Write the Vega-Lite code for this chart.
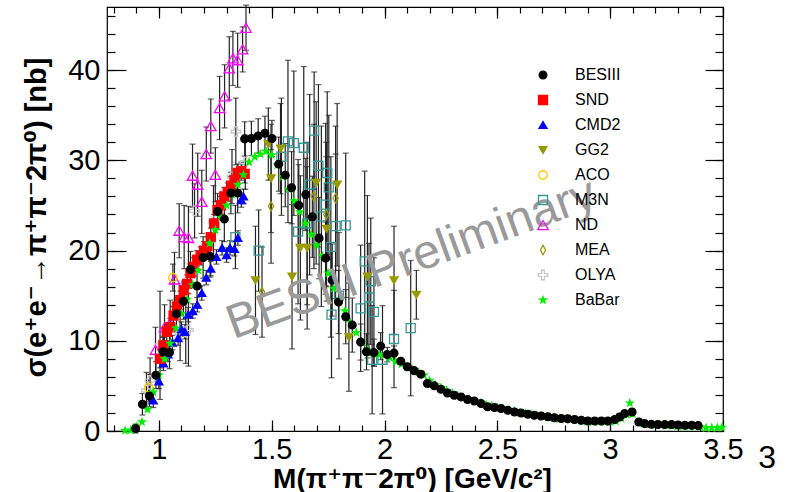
{
  "$schema": "https://vega.github.io/schema/vega-lite/v6.json",
  "width": 616,
  "height": 424,
  "autosize": {"type": "none"},
  "padding": {"left": 107, "top": 7, "right": 65, "bottom": 61},
  "background": "white",
  "config": {
    "font": "Liberation Sans",
    "view": {"stroke": "black", "strokeWidth": 1.2},
    "axis": {"grid": false, "domain": false, "tickColor": "black", "tickWidth": 1.2, "labelColor": "black", "titleColor": "black", "labelFont": "Liberation Sans", "titleFont": "Liberation Sans, DejaVu Sans"},
    "legend": {"orient": "none", "legendX": 428, "legendY": 60, "padding": 0, "labelFontSize": 16, "labelFont": "Liberation Sans", "labelColor": "black", "rowPadding": 9, "labelOffset": 24, "symbolStrokeWidth": 1.3, "symbolOpacity": 1}
  },
  "data": {"values": [
    {"exp":"M3N","m":1.339,"s":21.5,"e":3.5},{"exp":"M3N","m":1.442,"s":20.0,"e":4.5},{"exp":"M3N","m":1.543,"s":30.4,"e":6.5},{"exp":"M3N","m":1.572,"s":32.1,"e":9},{"exp":"M3N","m":1.598,"s":31.9,"e":8},{"exp":"M3N","m":1.617,"s":22.1,"e":8},{"exp":"M3N","m":1.642,"s":31.4,"e":9},{"exp":"M3N","m":1.657,"s":23.0,"e":9},{"exp":"M3N","m":1.668,"s":27.3,"e":10},{"exp":"M3N","m":1.688,"s":33.3,"e":6.5},{"exp":"M3N","m":1.707,"s":29.4,"e":9},{"exp":"M3N","m":1.72,"s":23.8,"e":10},{"exp":"M3N","m":1.739,"s":25.1,"e":9},{"exp":"M3N","m":1.746,"s":28.6,"e":9},{"exp":"M3N","m":1.753,"s":27.0,"e":8},{"exp":"M3N","m":1.762,"s":20.4,"e":10},{"exp":"M3N","m":1.765,"s":12.9,"e":7},{"exp":"M3N","m":1.783,"s":22.7,"e":8},{"exp":"M3N","m":1.798,"s":15.0,"e":7},{"exp":"M3N","m":1.828,"s":22.8,"e":8},{"exp":"M3N","m":1.894,"s":13.6,"e":7},{"exp":"M3N","m":1.912,"s":18.8,"e":10},{"exp":"M3N","m":1.931,"s":14.8,"e":6},{"exp":"M3N","m":1.939,"s":16.6,"e":7},{"exp":"M3N","m":1.945,"s":7.9,"e":6},{"exp":"M3N","m":1.953,"s":13.2,"e":6},{"exp":"M3N","m":1.991,"s":7.9,"e":6},{"exp":"M3N","m":2.042,"s":10.2,"e":5.4},{"exp":"M3N","m":2.116,"s":11.4,"e":7.5},
    {"exp":"MEA","m":1.457,"s":15.4,"e":5},{"exp":"MEA","m":1.497,"s":24.9,"e":6.3},{"exp":"MEA","m":1.687,"s":26.0,"e":8},{"exp":"MEA","m":1.742,"s":24.0,"e":8},{"exp":"MEA","m":1.783,"s":25.8,"e":8},
    {"exp":"GG2","m":1.428,"s":16.7,"e":6},{"exp":"GG2","m":1.485,"s":31.8,"e":4},{"exp":"GG2","m":1.497,"s":28.0,"e":6},{"exp":"GG2","m":1.539,"s":31.3,"e":5},{"exp":"GG2","m":1.59,"s":17.1,"e":8},{"exp":"GG2","m":1.627,"s":20.3,"e":8},{"exp":"GG2","m":1.657,"s":20.3,"e":9},{"exp":"GG2","m":1.697,"s":27.5,"e":9},{"exp":"GG2","m":1.743,"s":22.4,"e":8},{"exp":"GG2","m":1.79,"s":27.3,"e":9},{"exp":"GG2","m":1.842,"s":10.4,"e":6},{"exp":"GG2","m":1.924,"s":17.1,"e":9},{"exp":"GG2","m":2.042,"s":16.7,"e":6},{"exp":"GG2","m":2.141,"s":15.1,"e":2.7},
    {"exp":"OLYA","m":0.945,"s":4.5,"e":2},{"exp":"OLYA","m":0.961,"s":5.6,"e":2.5},{"exp":"OLYA","m":1.005,"s":9.5,"e":6},{"exp":"OLYA","m":1.094,"s":10.8,"e":3},{"exp":"OLYA","m":1.119,"s":11.0,"e":3.5},{"exp":"OLYA","m":1.131,"s":11.2,"e":4},{"exp":"OLYA","m":1.158,"s":24.4,"e":3},{"exp":"OLYA","m":1.242,"s":23.2,"e":4},{"exp":"OLYA","m":1.324,"s":28.2,"e":3},{"exp":"OLYA","m":1.341,"s":33.2,"e":3.7},{"exp":"OLYA","m":1.383,"s":29.8,"e":3},
    {"exp":"ND","m":0.985,"s":9.0,"e":2.5},{"exp":"ND","m":1.025,"s":11.5,"e":2.5},{"exp":"ND","m":1.05,"s":12.0,"e":2.5},{"exp":"ND","m":1.069,"s":16.8,"e":3},{"exp":"ND","m":1.09,"s":22.2,"e":3},{"exp":"ND","m":1.112,"s":21.5,"e":3.5},{"exp":"ND","m":1.131,"s":21.4,"e":3.5},{"exp":"ND","m":1.149,"s":28.3,"e":3.5},{"exp":"ND","m":1.172,"s":27.3,"e":3.5},{"exp":"ND","m":1.19,"s":25.4,"e":3.5},{"exp":"ND","m":1.21,"s":30.7,"e":3},{"exp":"ND","m":1.23,"s":33.8,"e":3},{"exp":"ND","m":1.25,"s":28.4,"e":3},{"exp":"ND","m":1.269,"s":35.8,"e":3.5},{"exp":"ND","m":1.291,"s":37.1,"e":3.5},{"exp":"ND","m":1.312,"s":40.2,"e":3.5},{"exp":"ND","m":1.328,"s":41.3,"e":3},{"exp":"ND","m":1.349,"s":41.1,"e":3},{"exp":"ND","m":1.371,"s":42.3,"e":2.5},{"exp":"ND","m":1.386,"s":44.7,"e":2.5},
    {"exp":"ACO","m":0.955,"s":4.8,"e":1.5},{"exp":"ACO","m":1.062,"s":17.0,"e":1.5},
    {"exp":"CMD2","m":0.975,"s":3.4,"e":0.8},{"exp":"CMD2","m":1.0,"s":5.5,"e":0.8},{"exp":"CMD2","m":1.02,"s":7.5,"e":0.8},{"exp":"CMD2","m":1.04,"s":8.5,"e":0.8},{"exp":"CMD2","m":1.06,"s":9.8,"e":0.8},{"exp":"CMD2","m":1.085,"s":10.3,"e":0.8},{"exp":"CMD2","m":1.1,"s":11.3,"e":0.8},{"exp":"CMD2","m":1.115,"s":11.0,"e":0.8},{"exp":"CMD2","m":1.13,"s":12.9,"e":0.8},{"exp":"CMD2","m":1.15,"s":13.3,"e":0.8},{"exp":"CMD2","m":1.17,"s":14.0,"e":0.8},{"exp":"CMD2","m":1.19,"s":15.3,"e":0.8},{"exp":"CMD2","m":1.21,"s":17.0,"e":0.8},{"exp":"CMD2","m":1.23,"s":18.0,"e":0.8},{"exp":"CMD2","m":1.255,"s":19.3,"e":0.8},{"exp":"CMD2","m":1.28,"s":20.3,"e":0.8},{"exp":"CMD2","m":1.3,"s":19.5,"e":0.8},{"exp":"CMD2","m":1.315,"s":20.3,"e":0.8},{"exp":"CMD2","m":1.335,"s":20.2,"e":0.8},{"exp":"CMD2","m":1.35,"s":21.4,"e":0.8},{"exp":"CMD2","m":1.365,"s":25.6,"e":0.8},{"exp":"CMD2","m":1.375,"s":26.0,"e":0.8},
    {"exp":"SND","m":1.005,"s":8.0,"e":1},{"exp":"SND","m":1.02,"s":9.5,"e":1},{"exp":"SND","m":1.035,"s":11.0,"e":1},{"exp":"SND","m":1.05,"s":11.5,"e":1},{"exp":"SND","m":1.065,"s":12.8,"e":1},{"exp":"SND","m":1.08,"s":13.8,"e":1},{"exp":"SND","m":1.095,"s":14.5,"e":1},{"exp":"SND","m":1.11,"s":15.6,"e":1},{"exp":"SND","m":1.125,"s":16.3,"e":1},{"exp":"SND","m":1.14,"s":17.5,"e":1},{"exp":"SND","m":1.155,"s":18.2,"e":1},{"exp":"SND","m":1.17,"s":19.0,"e":1},{"exp":"SND","m":1.185,"s":19.4,"e":1},{"exp":"SND","m":1.2,"s":20.0,"e":1},{"exp":"SND","m":1.215,"s":20.5,"e":1},{"exp":"SND","m":1.23,"s":21.5,"e":1},{"exp":"SND","m":1.245,"s":23.0,"e":1},{"exp":"SND","m":1.26,"s":24.5,"e":1},{"exp":"SND","m":1.275,"s":25.0,"e":1},{"exp":"SND","m":1.29,"s":26.0,"e":1},{"exp":"SND","m":1.305,"s":26.5,"e":1},{"exp":"SND","m":1.32,"s":27.2,"e":1},{"exp":"SND","m":1.335,"s":27.8,"e":1},{"exp":"SND","m":1.35,"s":28.6,"e":1},{"exp":"SND","m":1.365,"s":28.8,"e":1},{"exp":"SND","m":1.38,"s":28.5,"e":1},
    {"exp":"BaBar","m":0.85,"s":0.05},{"exp":"BaBar","m":0.875,"s":0.1},{"exp":"BaBar","m":0.9,"s":0.5},{"exp":"BaBar","m":0.925,"s":1.0},{"exp":"BaBar","m":0.95,"s":2.4},{"exp":"BaBar","m":0.975,"s":4.3},{"exp":"BaBar","m":1.0,"s":6.2},{"exp":"BaBar","m":1.025,"s":8.0},{"exp":"BaBar","m":1.05,"s":9.7},{"exp":"BaBar","m":1.075,"s":11.4},{"exp":"BaBar","m":1.1,"s":13.0},{"exp":"BaBar","m":1.125,"s":14.6},{"exp":"BaBar","m":1.15,"s":16.2},{"exp":"BaBar","m":1.175,"s":17.8},{"exp":"BaBar","m":1.2,"s":19.3},{"exp":"BaBar","m":1.225,"s":20.8},{"exp":"BaBar","m":1.25,"s":22.3},{"exp":"BaBar","m":1.275,"s":23.7},{"exp":"BaBar","m":1.3,"s":25.0},{"exp":"BaBar","m":1.325,"s":26.2},{"exp":"BaBar","m":1.35,"s":27.3},{"exp":"BaBar","m":1.375,"s":28.4},{"exp":"BaBar","m":1.4,"s":29.8},{"exp":"BaBar","m":1.425,"s":30.4},{"exp":"BaBar","m":1.45,"s":30.7},{"exp":"BaBar","m":1.475,"s":31.0},{"exp":"BaBar","m":1.5,"s":30.6},{"exp":"BaBar","m":1.525,"s":29.5},{"exp":"BaBar","m":1.55,"s":28.2},{"exp":"BaBar","m":1.575,"s":26.8},{"exp":"BaBar","m":1.6,"s":25.5},{"exp":"BaBar","m":1.625,"s":24.3},{"exp":"BaBar","m":1.65,"s":23.0},{"exp":"BaBar","m":1.675,"s":21.8},{"exp":"BaBar","m":1.7,"s":20.6},{"exp":"BaBar","m":1.725,"s":19.4},{"exp":"BaBar","m":1.75,"s":17.5},{"exp":"BaBar","m":1.775,"s":15.8},{"exp":"BaBar","m":1.8,"s":14.6},{"exp":"BaBar","m":1.825,"s":13.3},{"exp":"BaBar","m":1.85,"s":12.0},{"exp":"BaBar","m":1.875,"s":10.9},{"exp":"BaBar","m":1.9,"s":9.8},{"exp":"BaBar","m":1.925,"s":9.0},{"exp":"BaBar","m":1.95,"s":8.6},{"exp":"BaBar","m":1.975,"s":8.5},{"exp":"BaBar","m":2.0,"s":8.4},{"exp":"BaBar","m":2.025,"s":8.1},{"exp":"BaBar","m":2.05,"s":7.7},{"exp":"BaBar","m":2.075,"s":7.4},{"exp":"BaBar","m":2.1,"s":7.1},{"exp":"BaBar","m":2.125,"s":6.8},{"exp":"BaBar","m":2.15,"s":6.5},{"exp":"BaBar","m":2.175,"s":6.2},{"exp":"BaBar","m":2.2,"s":5.6},{"exp":"BaBar","m":2.225,"s":5.1},{"exp":"BaBar","m":2.25,"s":4.8},{"exp":"BaBar","m":2.275,"s":4.5},{"exp":"BaBar","m":2.3,"s":4.2},{"exp":"BaBar","m":2.325,"s":3.9},{"exp":"BaBar","m":2.35,"s":3.7},{"exp":"BaBar","m":2.375,"s":3.5},{"exp":"BaBar","m":2.4,"s":3.3},{"exp":"BaBar","m":2.425,"s":3.1},{"exp":"BaBar","m":2.45,"s":2.9},{"exp":"BaBar","m":2.475,"s":2.8},{"exp":"BaBar","m":2.5,"s":2.6},{"exp":"BaBar","m":2.525,"s":2.5},{"exp":"BaBar","m":2.55,"s":2.3},{"exp":"BaBar","m":2.575,"s":2.2},{"exp":"BaBar","m":2.6,"s":2.05},{"exp":"BaBar","m":2.625,"s":1.95},{"exp":"BaBar","m":2.65,"s":1.85},{"exp":"BaBar","m":2.675,"s":1.7},{"exp":"BaBar","m":2.7,"s":1.6},{"exp":"BaBar","m":2.725,"s":1.5},{"exp":"BaBar","m":2.75,"s":1.45},{"exp":"BaBar","m":2.775,"s":1.35},{"exp":"BaBar","m":2.8,"s":1.3},{"exp":"BaBar","m":2.825,"s":1.25},{"exp":"BaBar","m":2.85,"s":1.2},{"exp":"BaBar","m":2.875,"s":1.1},{"exp":"BaBar","m":2.9,"s":1.05},{"exp":"BaBar","m":2.925,"s":1.0},{"exp":"BaBar","m":2.95,"s":1.0},{"exp":"BaBar","m":2.975,"s":1.0},{"exp":"BaBar","m":3.0,"s":1.0},{"exp":"BaBar","m":3.025,"s":1.1},{"exp":"BaBar","m":3.05,"s":1.4},{"exp":"BaBar","m":3.075,"s":1.8},{"exp":"BaBar","m":3.087,"s":3.1},{"exp":"BaBar","m":3.1,"s":1.9},{"exp":"BaBar","m":3.125,"s":0.9},{"exp":"BaBar","m":3.15,"s":0.8},{"exp":"BaBar","m":3.175,"s":0.7},{"exp":"BaBar","m":3.2,"s":0.65},{"exp":"BaBar","m":3.225,"s":0.62},{"exp":"BaBar","m":3.25,"s":0.6},{"exp":"BaBar","m":3.275,"s":0.58},{"exp":"BaBar","m":3.3,"s":0.55},{"exp":"BaBar","m":3.325,"s":0.52},{"exp":"BaBar","m":3.35,"s":0.5},{"exp":"BaBar","m":3.375,"s":0.48},{"exp":"BaBar","m":3.4,"s":0.45},{"exp":"BaBar","m":3.425,"s":0.35},{"exp":"BaBar","m":3.45,"s":0.35},{"exp":"BaBar","m":3.475,"s":0.38},{"exp":"BaBar","m":3.495,"s":0.4},
    {"exp":"BESIII","m":0.897,"s":0.27,"e":0.5},{"exp":"BESIII","m":0.927,"s":2.97,"e":1.2},{"exp":"BESIII","m":0.958,"s":3.89,"e":1.2},{"exp":"BESIII","m":0.987,"s":6.19,"e":1.5},{"exp":"BESIII","m":1.018,"s":8.78,"e":1.6},{"exp":"BESIII","m":1.047,"s":8.71,"e":1.8},{"exp":"BESIII","m":1.078,"s":13.0,"e":1.6},{"exp":"BESIII","m":1.109,"s":14.38,"e":2.0},{"exp":"BESIII","m":1.14,"s":17.91,"e":2.0},{"exp":"BESIII","m":1.169,"s":16.08,"e":2.2},{"exp":"BESIII","m":1.196,"s":19.24,"e":2.3},{"exp":"BESIII","m":1.227,"s":19.36,"e":2.3},{"exp":"BESIII","m":1.26,"s":24.33,"e":2.0},{"exp":"BESIII","m":1.29,"s":23.49,"e":2.5},{"exp":"BESIII","m":1.319,"s":26.38,"e":2.3},{"exp":"BESIII","m":1.349,"s":26.38,"e":2.2},{"exp":"BESIII","m":1.38,"s":32.38,"e":1.9},{"exp":"BESIII","m":1.41,"s":32.43,"e":1.9},{"exp":"BESIII","m":1.44,"s":32.71,"e":1.9},{"exp":"BESIII","m":1.47,"s":33.0,"e":1.9},{"exp":"BESIII","m":1.501,"s":32.43,"e":2.0},{"exp":"BESIII","m":1.531,"s":29.58,"e":3},{"exp":"BESIII","m":1.56,"s":28.36,"e":3.5},{"exp":"BESIII","m":1.588,"s":26.97,"e":4},{"exp":"BESIII","m":1.62,"s":25.02,"e":4.5},{"exp":"BESIII","m":1.651,"s":26.22,"e":4},{"exp":"BESIII","m":1.68,"s":23.74,"e":4.5},{"exp":"BESIII","m":1.71,"s":21.38,"e":4.5},{"exp":"BESIII","m":1.739,"s":19.16,"e":4},{"exp":"BESIII","m":1.768,"s":16.74,"e":4},{"exp":"BESIII","m":1.796,"s":14.3,"e":3.5},{"exp":"BESIII","m":1.828,"s":12.67,"e":3},{"exp":"BESIII","m":1.857,"s":11.74,"e":3},{"exp":"BESIII","m":1.894,"s":9.86,"e":2},{"exp":"BESIII","m":1.92,"s":8.78,"e":2},{"exp":"BESIII","m":1.953,"s":8.69,"e":1.5},{"exp":"BESIII","m":1.983,"s":9.41,"e":1.5},{"exp":"BESIII","m":2.012,"s":8.47,"e":0.8},{"exp":"BESIII","m":2.042,"s":8.63,"e":0.8},{"exp":"BESIII","m":2.072,"s":7.74,"e":0.3},{"exp":"BESIII","m":2.101,"s":7.13,"e":0.3},{"exp":"BESIII","m":2.131,"s":6.69,"e":0.3},{"exp":"BESIII","m":2.161,"s":6.3,"e":0.3},{"exp":"BESIII","m":2.19,"s":5.27,"e":0.3},{"exp":"BESIII","m":2.22,"s":5.02,"e":0.3},{"exp":"BESIII","m":2.25,"s":4.63,"e":0.3},{"exp":"BESIII","m":2.279,"s":4.22,"e":0.3},{"exp":"BESIII","m":2.309,"s":3.97,"e":0.3},{"exp":"BESIII","m":2.339,"s":3.78,"e":0.3},{"exp":"BESIII","m":2.368,"s":3.49,"e":0.3},{"exp":"BESIII","m":2.398,"s":3.33,"e":0.3},{"exp":"BESIII","m":2.428,"s":3.04,"e":0.3},{"exp":"BESIII","m":2.457,"s":2.69,"e":0.3},{"exp":"BESIII","m":2.487,"s":2.6,"e":0.3},{"exp":"BESIII","m":2.516,"s":2.49,"e":0.3},{"exp":"BESIII","m":2.546,"s":2.3,"e":0.3},{"exp":"BESIII","m":2.576,"s":2.11,"e":0.3},{"exp":"BESIII","m":2.605,"s":2.0,"e":0.3},{"exp":"BESIII","m":2.635,"s":1.86,"e":0.3},{"exp":"BESIII","m":2.664,"s":1.74,"e":0.3},{"exp":"BESIII","m":2.694,"s":1.67,"e":0.3},{"exp":"BESIII","m":2.724,"s":1.58,"e":0.3},{"exp":"BESIII","m":2.753,"s":1.47,"e":0.3},{"exp":"BESIII","m":2.783,"s":1.38,"e":0.3},{"exp":"BESIII","m":2.812,"s":1.36,"e":0.3},{"exp":"BESIII","m":2.842,"s":1.27,"e":0.3},{"exp":"BESIII","m":2.872,"s":1.19,"e":0.3},{"exp":"BESIII","m":2.901,"s":1.11,"e":0.3},{"exp":"BESIII","m":2.931,"s":1.11,"e":0.3},{"exp":"BESIII","m":2.961,"s":1.11,"e":0.3},{"exp":"BESIII","m":2.99,"s":1.11,"e":0.3},{"exp":"BESIII","m":3.02,"s":1.27,"e":0.3},{"exp":"BESIII","m":3.042,"s":1.56,"e":0.3},{"exp":"BESIII","m":3.064,"s":1.93,"e":0.3},{"exp":"BESIII","m":3.097,"s":2.11,"e":0.3},{"exp":"BESIII","m":3.127,"s":1.0,"e":0.3},{"exp":"BESIII","m":3.153,"s":0.82,"e":0.3},{"exp":"BESIII","m":3.183,"s":0.74,"e":0.3},{"exp":"BESIII","m":3.212,"s":0.71,"e":0.3},{"exp":"BESIII","m":3.242,"s":0.71,"e":0.3},{"exp":"BESIII","m":3.272,"s":0.71,"e":0.3},{"exp":"BESIII","m":3.301,"s":0.67,"e":0.3},{"exp":"BESIII","m":3.331,"s":0.63,"e":0.3},{"exp":"BESIII","m":3.361,"s":0.63,"e":0.3},{"exp":"BESIII","m":3.39,"s":0.6,"e":0.3}
  ]},
  "layer": [
    {
      "transform": [{"filter": "datum.e > 0"}],
      "mark": {"type": "errorbar", "ticks": true, "size": 6, "color": "#222222", "thickness": 1.2},
      "encoding": {
        "x": {"field": "m", "type": "quantitative", "scale": {"domain": [0.77, 3.5], "nice": false, "zero": false},
              "axis": {"orient": "bottom", "values": [1, 1.5, 2, 2.5, 3, 3.5], "format": "~g", "tickSize": -11, "labelPadding": 15, "labelFontSize": 29, "labelFlush": false, "labelOverlap": false,
                       "title": "M(π⁺π⁻2π⁰) [GeV/c²]", "titleFontSize": 28, "titleFontWeight": "bold", "titleX": 305, "titleY": 56, "titleAlign": "center", "titleBaseline": "alphabetic"}},
        "y": {"field": "s", "type": "quantitative", "scale": {"domain": [0, 47], "nice": false, "zero": false},
              "axis": {"orient": "left", "values": [0, 10, 20, 30, 40], "format": "d", "tickSize": -19, "labelPadding": 26, "labelFontSize": 29, "labelFlush": false,
                       "title": "σ(e⁺e⁻→π⁺π⁻2π⁰) [nb]", "titleFontSize": 29, "titleFontWeight": "bold", "titleAngle": 270, "titleX": -62, "titleY": 210, "titleAlign": "center", "titleBaseline": "alphabetic"}},
        "yError": {"field": "e"}
      }
    },
    {
      "mark": {"type": "point", "filled": false, "opacity": 1, "strokeWidth": 1.3},
      "encoding": {
        "x": {"field": "m", "type": "quantitative", "scale": {"domain": [0.77, 3.5], "nice": false, "zero": false},
              "axis": {"orient": "bottom", "values": [0.8,0.9,1.0,1.1,1.2,1.3,1.4,1.5,1.6,1.7,1.8,1.9,2.0,2.1,2.2,2.3,2.4,2.5,2.6,2.7,2.8,2.9,3.0,3.1,3.2,3.3,3.4,3.5], "tickSize": -6, "labels": false, "title": null}},
        "y": {"field": "s", "type": "quantitative", "scale": {"domain": [0, 47], "nice": false, "zero": false},
              "axis": {"orient": "left", "values": [0,2,4,6,8,10,12,14,16,18,20,22,24,26,28,30,32,34,36,38,40,42,44,46], "tickSize": -8, "labels": false, "title": null}},
        "shape": {"field": "exp", "type": "nominal", "title": null,
                  "scale": {"domain": ["BESIII","SND","CMD2","GG2","ACO","M3N","ND","MEA","OLYA","BaBar"],
                            "range": ["circle","square","triangle-up","triangle-down","circle","square","triangle-up","M0,-1L0.55,0L0,1L-0.55,0Z","M-0.3,-1H0.3V-0.3H1V0.3H0.3V1H-0.3V0.3H-1V-0.3H-0.3Z","M0,-1L0.235,-0.324L0.951,-0.309L0.38,0.124L0.588,0.809L0,0.4L-0.588,0.809L-0.38,0.124L-0.951,-0.309L-0.235,-0.324Z"]}},
        "color": {"field": "exp", "type": "nominal", "title": null,
                  "scale": {"domain": ["BESIII","SND","CMD2","GG2","ACO","M3N","ND","MEA","OLYA","BaBar"],
                            "range": ["#000000","#ff0000","#0000ff","#999900","#ffcc00","#339999","#ff00ff","#999900","#c8c8c8","#00ee00"]}},
        "fill": {"field": "exp", "type": "nominal", "title": null,
                 "scale": {"domain": ["BESIII","SND","CMD2","GG2","ACO","M3N","ND","MEA","OLYA","BaBar"],
                           "range": ["#000000","#ff0000","#0000ff","#999900","transparent","transparent","transparent","transparent","transparent","#00ee00"]}},
        "size": {"field": "exp", "type": "nominal", "title": null,
                 "scale": {"type": "ordinal", "domain": ["BESIII","SND","CMD2","GG2","ACO","M3N","ND","MEA","OLYA","BaBar"],
                           "range": [60, 81, 64, 64, 72, 81, 110, 90, 90, 45]}}
      }
    },
    {
      "data": {"values": [{"label": "BESIII Preliminary"}]},
      "mark": {"type": "text", "fontSize": 48, "angle": -20, "color": "#9a9a9a", "align": "center", "baseline": "middle", "font": "Liberation Sans"},
      "encoding": {
        "text": {"field": "label"},
        "x": {"datum": 2.12, "type": "quantitative", "scale": {"domain": [0.77, 3.5], "nice": false, "zero": false},
              "axis": {"orient": "top", "values": [1, 1.5, 2, 2.5, 3, 3.5], "tickSize": -11, "labels": false, "title": null}},
        "y": {"datum": 19.0, "type": "quantitative", "scale": {"domain": [0, 47], "nice": false, "zero": false},
              "axis": {"orient": "right", "values": [0, 10, 20, 30, 40], "tickSize": -18, "labels": false, "title": null}}
      }
    },
    {
      "data": {"values": [{"label": "3"}]},
      "mark": {"type": "text", "fontSize": 32, "color": "black", "align": "center", "baseline": "middle", "font": "Liberation Sans"},
      "encoding": {
        "text": {"field": "label"},
        "x": {"datum": 3.696, "type": "quantitative", "scale": {"domain": [0.77, 3.5], "nice": false, "zero": false},
              "axis": {"orient": "top", "values": [0.8,0.9,1.0,1.1,1.2,1.3,1.4,1.5,1.6,1.7,1.8,1.9,2.0,2.1,2.2,2.3,2.4,2.5,2.6,2.7,2.8,2.9,3.0,3.1,3.2,3.3,3.4,3.5], "tickSize": -6, "labels": false, "title": null}},
        "y": {"datum": -3.0, "type": "quantitative", "scale": {"domain": [0, 47], "nice": false, "zero": false},
              "axis": {"orient": "right", "values": [0,2,4,6,8,10,12,14,16,18,20,22,24,26,28,30,32,34,36,38,40,42,44,46], "tickSize": -8, "labels": false, "title": null}}
      }
    }
  ],
  "resolve": {"axis": {"x": "independent", "y": "independent"}}
}
